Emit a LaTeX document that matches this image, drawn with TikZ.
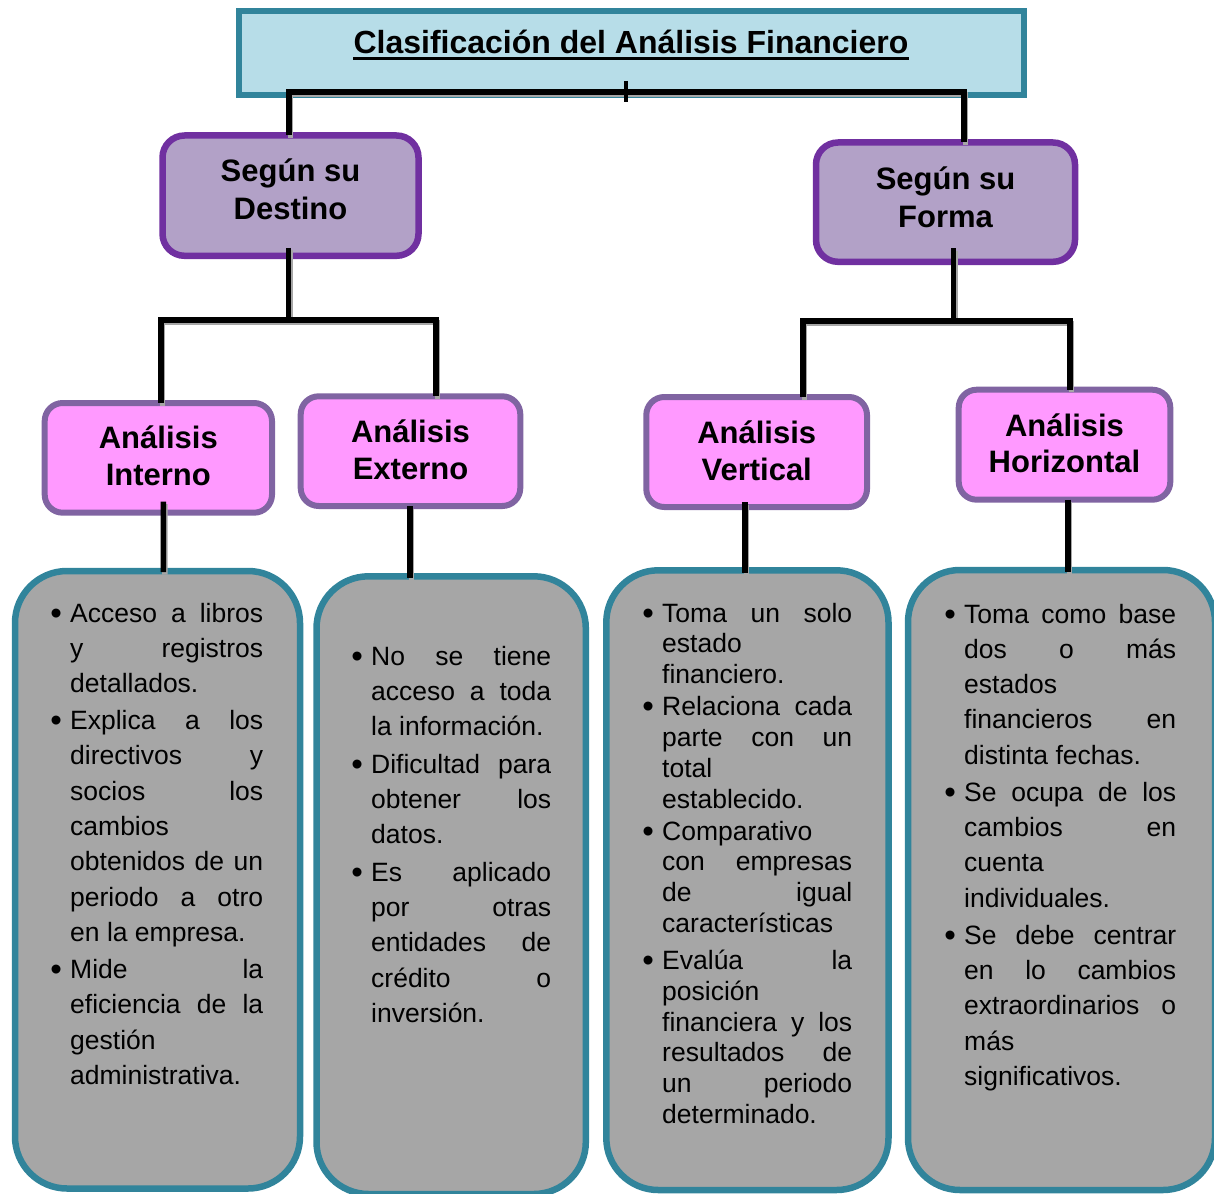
\documentclass[tikz,border=0pt]{standalone}
\usepackage{fontspec}
\setmainfont{Liberation Sans}
\usetikzlibrary{calc}
\definecolor{tealb}{HTML}{31849B}
\definecolor{titlefill}{HTML}{B7DDE8}
\definecolor{lvtwofill}{HTML}{B2A1C7}
\definecolor{lvtwoline}{HTML}{7030A0}
\definecolor{lvthreefill}{HTML}{FF99FF}
\definecolor{lvthreeline}{HTML}{8064A2}
\definecolor{bodyfill}{HTML}{A6A6A6}
\newlength\colw
\newcommand\J[1]{\hbox to\colw{\spaceskip=.278em plus 1fil\relax#1}}
\newcommand\Ln[1]{\hbox{#1}}
\newcommand\bu{\llap{\raisebox{-2pt}{\fontsize{33}{33}\selectfont\textbullet}\hskip 8.2pt}}
\newcommand\bodytext[3]{\vtop{\colw=#1\relax\hsize=\colw\fontsize{26.5}{#2}\selectfont #3}}
\tikzset{
  titlebox/.style={draw=tealb, fill=titlefill, line width=6pt, inner sep=0pt, outer sep=0pt},
  lvtwo/.style={draw=lvtwoline, fill=lvtwofill, line width=6.5pt, rounded corners=22pt, inner sep=0pt, outer sep=0pt},
  lvthree/.style={draw=lvthreeline, fill=lvthreefill, line width=6pt, rounded corners=18pt, inner sep=0pt, outer sep=0pt},
  bodybox/.style={draw=tealb, fill=bodyfill, line width=6.5pt, rounded corners=52pt, inner sep=0pt, outer sep=0pt},
  lvtwotxt/.style={anchor=base, inner sep=0pt, font=\fontsize{31}{38}\selectfont\bfseries},
  lvthreetxt/.style={anchor=base, inner sep=0pt, font=\fontsize{31}{36.7}\selectfont\bfseries},
  bodytxt/.style={anchor=base west, inner sep=0pt},
  conn/.style={line width=5.5pt, draw=black,
    preaction={draw=black!35, line width=5.5pt, transform canvas={shift={(1.5pt,-2.5pt)}}}},
}
\begin{document}
\begin{tikzpicture}[x=1pt,y=-1pt]
\useasboundingbox (0,0) rectangle (1214,1193);
% boxes
\node[titlebox, minimum width=785.3pt, minimum height=84pt] (title) at (631.65,53) {};
\node[lvtwo, minimum width=256pt, minimum height=120.3pt] (dest) at (290.5,195.65) {};
\node[lvtwo, minimum width=259pt, minimum height=119.3pt] (forma) at (945.5,202.15) {};
\node[lvthree, minimum width=227.3pt, minimum height=109.7pt] (int) at (158.35,457.85) {};
\node[lvthree, minimum width=219.6pt, minimum height=109.7pt] (ext) at (410.5,451.15) {};
\node[lvthree, minimum width=220.7pt, minimum height=110pt] (vert) at (756.65,452) {};
\node[lvthree, minimum width=211.6pt, minimum height=110pt] (hori) at (1064.5,444.7) {};
\node[bodybox, minimum width=285pt, minimum height=617.5pt] (b1) at (157.5,879.75) {};
\node[bodybox, minimum width=269.3pt, minimum height=617.7pt] (b2) at (451.15,885.15) {};
\node[bodybox, minimum width=282.2pt, minimum height=619.7pt] (b3) at (747.4,880.15) {};
\node[bodybox, minimum width=307pt, minimum height=620pt] (b4) at (1061.5,880) {};
% title text
\node[anchor=base, inner sep=0pt, font=\fontsize{32}{38}\selectfont\bfseries] (ttl) at (631,53.3) {Clasificación del Análisis Financiero};
\draw[line width=2.5pt] ([yshift=-5pt]ttl.base west) -- ([yshift=-5pt]ttl.base east);
% level texts
\node[lvtwotxt] (tdest) at (290.5,181.7) {\begin{tabular}[t]{@{}c@{}}Según su\\Destino\end{tabular}};
\node[lvtwotxt] (tforma) at (945.5,189.3) {\begin{tabular}[t]{@{}c@{}}Según su\\Forma\end{tabular}};
\node[lvthreetxt] (tint) at (158.3,448.3) {\begin{tabular}[t]{@{}c@{}}Análisis\\Interno\end{tabular}};
\node[lvthreetxt] (text) at (410.5,442.3) {\begin{tabular}[t]{@{}c@{}}Análisis\\Externo\end{tabular}};
\node[lvthreetxt] (tvert) at (756.7,443.3) {\begin{tabular}[t]{@{}c@{}}Análisis\\Vertical\end{tabular}};
\node[lvthreetxt] (thori) at (1064.5,436) {\begin{tabular}[t]{@{}c@{}}Análisis\\Horizontal\end{tabular}};
% connectors
\coordinate (bus1) at ([yshift=3pt]title.south);
\draw[conn] ([xshift=-1.5pt]dest.north) |- (bus1) -| ([xshift=18.5pt]forma.north);
\draw[line width=4pt] ([xshift=-6pt,yshift=11pt]bus1) -- ([xshift=-6pt,yshift=-10pt]bus1);
\coordinate (bus2) at (288.5,320);
\draw[conn] ([xshift=-2pt,yshift=8pt]dest.south) -- (bus2);
\draw[conn] ([xshift=2.6pt]int.north) |- (bus2) -| ([xshift=25.5pt]ext.north);
\coordinate (bus3) at (953.3,321);
\draw[conn] ([xshift=7.8pt,yshift=13.5pt]forma.south) -- (bus3);
\draw[conn] ([xshift=46.3pt]vert.north) |- (bus3) -| ([xshift=5.5pt]hori.north);
\draw[conn] ([xshift=5pt,yshift=11pt]int.south) -- ([xshift=5.8pt,yshift=-1pt]b1.north);
\draw[conn] ([xshift=-0.5pt]ext.south) -- ([xshift=-41.15pt,yshift=-1.7pt]b2.north);
\draw[conn] ([xshift=-11.65pt,yshift=5pt]vert.south) -- ([xshift=-2.4pt,yshift=-2.7pt]b3.north);
\draw[conn] ([xshift=3.5pt]hori.south) -- ([xshift=6.5pt,yshift=-2pt]b4.north);
% body texts
\node[bodytxt] (t1) at (70,622) {\bodytext{193pt}{35.3pt}{%
\J{\bu Acceso a libros}
\J{y registros}
\Ln{detallados.}\vskip1.7pt
\J{\bu Explica a los}
\J{directivos y}
\J{socios los}
\Ln{cambios}
\J{obtenidos de un}
\J{periodo a otro}
\Ln{en la empresa.}\vskip1.7pt
\J{\bu Mide la}
\J{eficiencia de la}
\Ln{gestión}
\Ln{administrativa.}}};
\node[bodytxt] (t2) at (371,665) {\bodytext{180pt}{35.3pt}{%
\J{\bu No se tiene}
\J{acceso a toda}
\Ln{la información.}\vskip2.2pt
\J{\bu Dificultad para}
\J{obtener los}
\Ln{datos.}\vskip2.2pt
\J{\bu Es aplicado}
\J{por otras}
\J{entidades de}
\J{crédito o}
\Ln{inversión.}}};
\node[bodytxt] (t3) at (662,622) {\bodytext{190pt}{30.8pt}{%
\J{\bu Toma un solo}
\Ln{estado}
\Ln{financiero.}\vskip1.2pt
\J{\bu Relaciona cada}
\J{parte con un}
\Ln{total}
\Ln{establecido.}\vskip1.2pt
\Ln{\bu Comparativo}
\J{con empresas}
\J{de igual}
\Ln{características}\vskip6.2pt
\J{\bu Evalúa la}
\Ln{posición}
\J{financiera y los}
\J{resultados de}
\J{un periodo}
\Ln{determinado.}}};
\node[bodytxt] (t4) at (964,623) {\bodytext{212pt}{35.3pt}{%
\J{\bu Toma como base}
\J{dos o más}
\Ln{estados}
\J{financieros en}
\Ln{distinta fechas.}\vskip1.7pt
\J{\bu Se ocupa de los}
\J{cambios en}
\Ln{cuenta}
\Ln{individuales.}\vskip1.7pt
\J{\bu Se debe centrar}
\J{en lo cambios}
\J{extraordinarios o}
\Ln{más}
\Ln{significativos.}}};
\end{tikzpicture}
\end{document}
